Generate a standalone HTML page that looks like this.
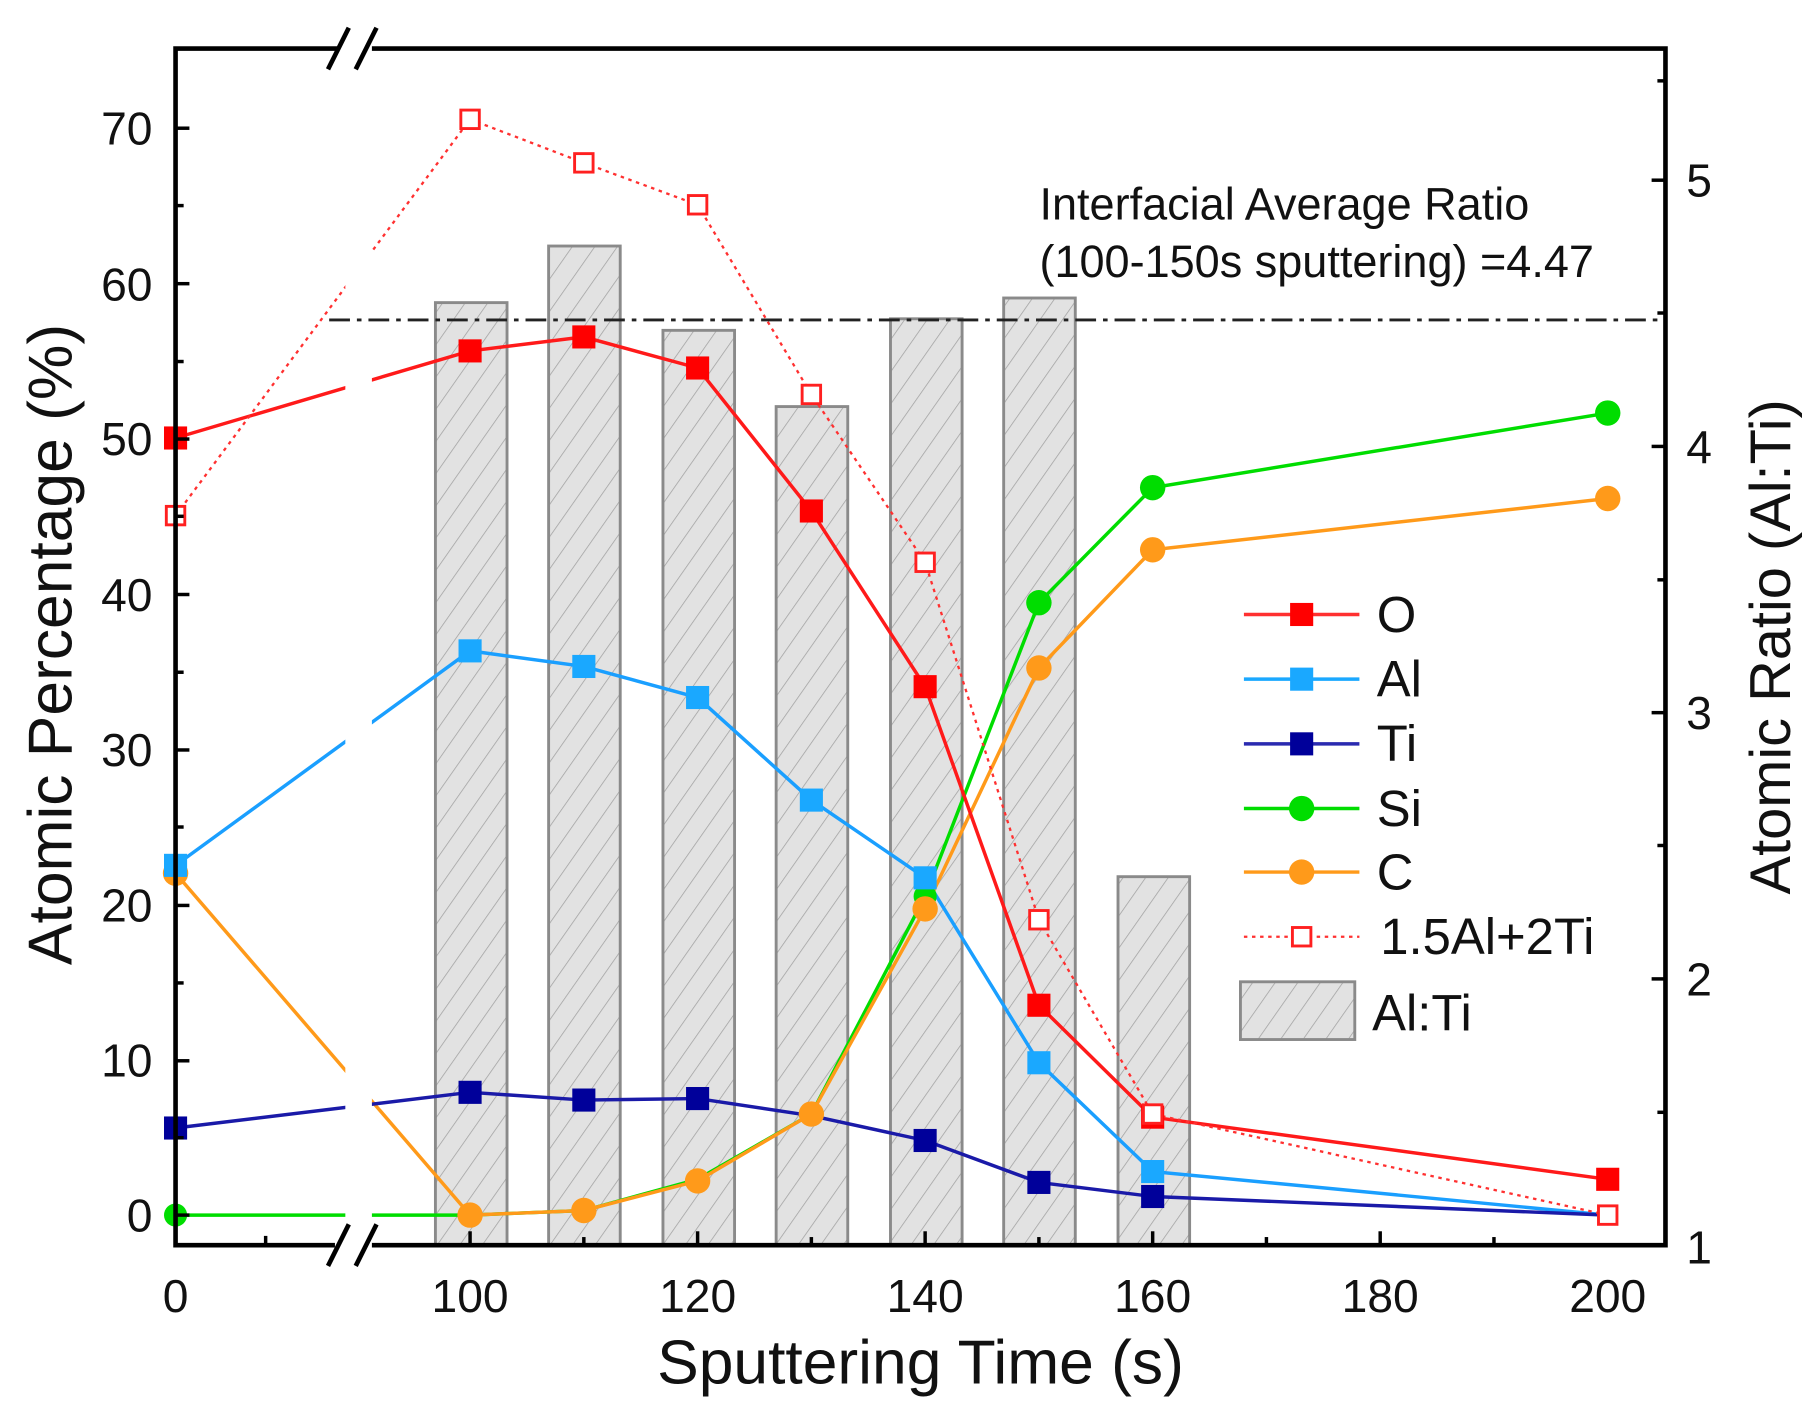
<!DOCTYPE html>
<html><head><meta charset="utf-8"><style>html,body{margin:0;padding:0;background:#fff}svg{display:block}</style></head>
<body>
<svg width="1811" height="1411" viewBox="0 0 1568 1221.6" preserveAspectRatio="none" xmlns="http://www.w3.org/2000/svg" font-family="Liberation Sans, sans-serif">
<defs>
<pattern id="h" patternUnits="userSpaceOnUse" width="16" height="16" patternTransform="rotate(35)">
<rect width="16" height="16" fill="#e2e2e2"/><line x1="0" y1="0" x2="0" y2="16" stroke="#a0a0a0" stroke-width="1.3"/>
</pattern>
</defs>
<rect width="1568" height="1221.6" fill="#fff"/>
<g fill="url(#h)" stroke="#8a8a8a" stroke-width="2.5">
<rect x="377" y="262" width="62" height="816"/>
<rect x="475" y="213" width="62" height="865"/>
<rect x="574" y="286" width="62" height="792"/>
<rect x="672" y="352" width="62" height="726"/>
<rect x="771" y="276" width="62" height="802"/>
<rect x="869" y="258" width="62" height="820"/>
<rect x="968" y="759" width="62" height="319"/>
</g>
<g fill="none" stroke-width="3">
<polyline stroke="#00dd00" points="152,1052 407,1052 505.5,1048 604,1021 702.5,964.5 801,776 899.5,521.8 998,422.2 1392,357.6"/>
<polyline stroke="#ff9a1a" points="152,756 407,1052 505.5,1048 604,1022.4 702.5,964.5 801,786.9 899.5,578.3 998,476 1392,431.6"/>
<polyline stroke="#1a9fff" points="152,749.2 407,563.5 505.5,577 604,603.9 702.5,692.7 801,760 899.5,920.1 998,1014.3 1392,1052"/>
<polyline stroke="#1a1aa8" points="152,976.6 407,945.7 505.5,952.4 604,951.1 702.5,965.9 801,987.4 899.5,1023.7 998,1035.9 1392,1052"/>
<polyline stroke="#ff1a1a" points="152,379.2 407,303.8 505.5,291.7 604,318.6 702.5,442.4 801,594.5 899.5,870.3 998,967.2 1392,1021"/>
<polyline stroke="#ff3030" stroke-width="2" stroke-dasharray="3,4" points="152,446.4 407,103.3 505.5,141 604,177.3 702.5,341.5 801,486.8 899.5,796.3 998,964.5 1392,1052"/>
</g>
<rect x="299" y="60" width="23" height="1010" fill="#fff"/>
<line x1="285" y1="277" x2="1442" y2="277" stroke="#222" stroke-width="2.5" stroke-dasharray="18,6,4,6"/>
<g fill="#00dd00"><circle cx="152" cy="1052" r="10"/><circle cx="899.5" cy="521.8" r="11"/><circle cx="998" cy="422.2" r="11"/><circle cx="1392" cy="357.6" r="11"/><circle cx="801" cy="776" r="10"/></g>
<g fill="#ff9a1a"><circle cx="152" cy="756" r="11"/><circle cx="407" cy="1052" r="11"/><circle cx="505.5" cy="1048" r="11"/><circle cx="604" cy="1022.4" r="11"/><circle cx="702.5" cy="964.5" r="11"/><circle cx="801" cy="786.9" r="11"/><circle cx="899.5" cy="578.3" r="11"/><circle cx="998" cy="476" r="11"/><circle cx="1392" cy="431.6" r="11"/></g>
<g fill="#1aa8ff"><rect x="142" y="739.2" width="20" height="20"/><rect x="397" y="553.5" width="20" height="20"/><rect x="495.5" y="567" width="20" height="20"/><rect x="594" y="593.9" width="20" height="20"/><rect x="692.5" y="682.7" width="20" height="20"/><rect x="791" y="750" width="20" height="20"/><rect x="889.5" y="910.1" width="20" height="20"/><rect x="988" y="1004.3" width="20" height="20"/></g>
<g fill="#00009a"><rect x="142" y="966.6" width="20" height="20"/><rect x="397" y="935.7" width="20" height="20"/><rect x="495.5" y="942.4" width="20" height="20"/><rect x="594" y="941.1" width="20" height="20"/><rect x="791" y="977.4" width="20" height="20"/><rect x="889.5" y="1013.7" width="20" height="20"/><rect x="988" y="1025.9" width="20" height="20"/></g>
<g fill="#ff0000"><rect x="142" y="369.2" width="20" height="20"/><rect x="397" y="293.8" width="20" height="20"/><rect x="495.5" y="281.7" width="20" height="20"/><rect x="594" y="308.6" width="20" height="20"/><rect x="692.5" y="432.4" width="20" height="20"/><rect x="791" y="584.5" width="20" height="20"/><rect x="889.5" y="860.3" width="20" height="20"/><rect x="988" y="957.2" width="20" height="20"/><rect x="1382" y="1011" width="20" height="20"/></g>
<g fill="#fff" stroke="#ff2020" stroke-width="2.5"><rect x="144" y="438.4" width="16" height="16"/><rect x="399" y="95.3" width="16" height="16"/><rect x="497.5" y="133" width="16" height="16"/><rect x="596" y="169.3" width="16" height="16"/><rect x="694.5" y="333.5" width="16" height="16"/><rect x="793" y="478.8" width="16" height="16"/><rect x="891.5" y="788.3" width="16" height="16"/><rect x="990" y="956.5" width="16" height="16"/><rect x="1384" y="1044" width="16" height="16"/></g>
<g stroke="#000" stroke-width="4" fill="none">
<polyline points="292,42 152,42 152,1078 290,1078"/>
<polyline points="322,42 1442,42 1442,1078 322,1078"/>
</g>
<g stroke="#fff" stroke-width="12"><line x1="304" y1="30" x2="310" y2="54"/><line x1="304" y1="1066" x2="310" y2="1090"/></g>
<g stroke="#000" stroke-width="4"><line x1="284" y1="60" x2="302" y2="24"/><line x1="308" y1="60" x2="326" y2="24"/><line x1="284" y1="1096" x2="302" y2="1060"/><line x1="308" y1="1096" x2="326" y2="1060"/></g>
<g stroke="#000" stroke-width="3">
<line x1="152" y1="1052" x2="164" y2="1052"/><line x1="152" y1="918.4" x2="164" y2="918.4"/><line x1="152" y1="783.9" x2="164" y2="783.9"/><line x1="152" y1="649.3" x2="164" y2="649.3"/><line x1="152" y1="514.7" x2="164" y2="514.7"/><line x1="152" y1="380.1" x2="164" y2="380.1"/><line x1="152" y1="245.6" x2="164" y2="245.6"/><line x1="152" y1="111" x2="164" y2="111"/>
<line x1="152" y1="985" x2="159" y2="985"/><line x1="152" y1="851" x2="159" y2="851"/><line x1="152" y1="716" x2="159" y2="716"/><line x1="152" y1="582" x2="159" y2="582"/><line x1="152" y1="447" x2="159" y2="447"/><line x1="152" y1="313" x2="159" y2="313"/><line x1="152" y1="178" x2="159" y2="178"/>
<line x1="1442" y1="847.5" x2="1430" y2="847.5"/><line x1="1442" y1="617" x2="1430" y2="617"/><line x1="1442" y1="386.5" x2="1430" y2="386.5"/><line x1="1442" y1="156" x2="1430" y2="156"/>
<line x1="1442" y1="963" x2="1435" y2="963"/><line x1="1442" y1="732" x2="1435" y2="732"/><line x1="1442" y1="502" x2="1435" y2="502"/><line x1="1442" y1="271" x2="1435" y2="271"/><line x1="1442" y1="70" x2="1435" y2="70"/>
<line x1="230" y1="1078" x2="230" y2="1070"/>
<line x1="407" y1="1078" x2="407" y2="1066"/><line x1="604" y1="1078" x2="604" y2="1066"/><line x1="801" y1="1078" x2="801" y2="1066"/><line x1="998" y1="1078" x2="998" y2="1066"/><line x1="1195" y1="1078" x2="1195" y2="1066"/>
<line x1="505.5" y1="1078" x2="505.5" y2="1071"/><line x1="702.5" y1="1078" x2="702.5" y2="1071"/><line x1="899.5" y1="1078" x2="899.5" y2="1071"/><line x1="1096.5" y1="1078" x2="1096.5" y2="1071"/><line x1="1293.5" y1="1078" x2="1293.5" y2="1071"/>
</g>
<g font-size="40" fill="#111" text-anchor="end">
<text x="132" y="1066">0</text><text x="132" y="932">10</text><text x="132" y="798">20</text><text x="132" y="663">30</text><text x="132" y="529">40</text><text x="132" y="394">50</text><text x="132" y="260">60</text><text x="132" y="125">70</text>
</g>
<g font-size="40" fill="#111" text-anchor="start">
<text x="1460" y="1094">1</text><text x="1460" y="862">2</text><text x="1460" y="631">3</text><text x="1460" y="401">4</text><text x="1460" y="170">5</text>
</g>
<g font-size="40" fill="#111" text-anchor="middle">
<text x="152" y="1136">0</text><text x="407" y="1136">100</text><text x="604" y="1136">120</text><text x="801" y="1136">140</text><text x="998" y="1136">160</text><text x="1195" y="1136">180</text><text x="1392" y="1136">200</text>
</g>
<text x="797" y="1198" font-size="54" text-anchor="middle" fill="#111">Sputtering Time (s)</text>
<text transform="translate(62,558) rotate(-90)" font-size="54" text-anchor="middle" fill="#111">Atomic Percentage (%)</text>
<text transform="translate(1550,560) rotate(-90)" font-size="50" text-anchor="middle" fill="#111">Atomic Ratio (Al:Ti)</text>
<text x="900" y="190" font-size="39" fill="#111">Interfacial Average Ratio</text>
<text x="900" y="240" font-size="39" fill="#111">(100-150s sputtering) =4.47</text>
<g stroke-width="3">
<line x1="1077" y1="532" x2="1177" y2="532" stroke="#ff3030"/><rect x="1117" y="522" width="20" height="20" fill="#ff0000"/>
<line x1="1077" y1="588" x2="1177" y2="588" stroke="#1aa8ff"/><rect x="1117" y="578" width="20" height="20" fill="#1aa8ff"/>
<line x1="1077" y1="644" x2="1177" y2="644" stroke="#2a2ab0"/><rect x="1117" y="634" width="20" height="20" fill="#00009a"/>
<line x1="1077" y1="700" x2="1177" y2="700" stroke="#00dd00"/><circle cx="1127" cy="700" r="11" fill="#00dd00"/>
<line x1="1077" y1="755" x2="1177" y2="755" stroke="#ff9a1a"/><circle cx="1127" cy="755" r="11" fill="#ff9a1a"/>
<line x1="1077" y1="811" x2="1177" y2="811" stroke="#ff3030" stroke-width="2" stroke-dasharray="3,4"/><rect x="1119" y="803" width="16" height="16" fill="#fff" stroke="#ff2020" stroke-width="2.5"/>
<rect x="1074" y="850" width="99" height="50" fill="url(#h)" stroke="#8a8a8a" stroke-width="2.5"/>
</g>
<g font-size="44" fill="#111">
<text x="1192" y="547">O</text><text x="1192" y="603">Al</text><text x="1192" y="659">Ti</text><text x="1192" y="715">Si</text><text x="1192" y="770">C</text><text x="1195" y="826">1.5Al+2Ti</text><text x="1188" y="892">Al:Ti</text>
</g>
</svg>
</body></html>
